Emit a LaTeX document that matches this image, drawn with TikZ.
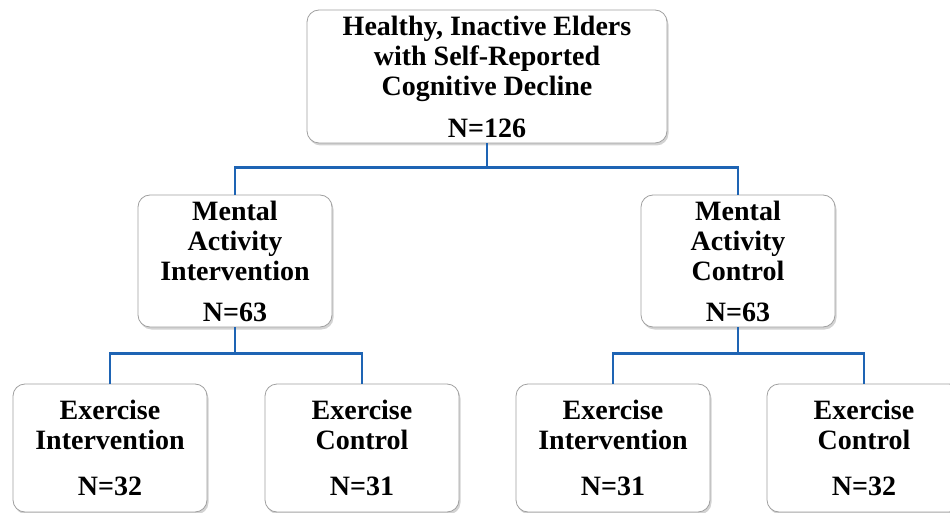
\documentclass[tikz,border=0pt]{standalone}
\usepackage{fontspec}
\setmainfont{Liberation Serif}
\usetikzlibrary{shadows}
\definecolor{connblue}{RGB}{30,100,180}
\definecolor{boxgray}{RGB}{160,160,160}
\tikzset{
  box/.style={draw=boxgray, line width=0.8pt, fill=white, rounded corners=12pt,
    align=center, inner sep=2pt, font=\bfseries\fontsize{28}{30}\selectfont,
    drop shadow={shadow xshift=1.5pt, shadow yshift=-2.5pt, opacity=0.35, fill=gray}},
  conn/.style={draw=connblue, line width=2.4pt}
}
\begin{document}
\begin{tikzpicture}[x=1pt,y=1pt]
\useasboundingbox (0,0) rectangle (950,512);
\begin{scope}
\clip (0,0) rectangle (950,512);
\node[box, minimum width=360pt, minimum height=133pt] (top) at (487,435.5)
  {Healthy, Inactive Elders\\with Self-Reported\\Cognitive Decline\\[12pt]N=126};
\node[box, minimum width=194pt, minimum height=132pt] (mi) at (235,251)
  {Mental\\Activity\\Intervention\\[11pt]N=63};
\node[box, minimum width=194pt, minimum height=132pt] (mc) at (738,251)
  {Mental\\Activity\\Control\\[11pt]N=63};
\node[box, minimum width=194pt, minimum height=128pt] (ei1) at (110,64)
  {Exercise\\Intervention\\[16pt]N=32};
\node[box, minimum width=194pt, minimum height=128pt] (ec1) at (362,64)
  {Exercise\\Control\\[16pt]N=31};
\node[box, minimum width=194pt, minimum height=128pt] (ei2) at (613,64)
  {Exercise\\Intervention\\[16pt]N=31};
\node[box, minimum width=194pt, minimum height=128pt] (ec2) at (864,64)
  {Exercise\\Control\\[16pt]N=32};
\draw[conn] (top.south) -- ++(0,-24) coordinate (j1);
\draw[conn] (mi.north) |- (j1) -| (mc.north);
\draw[conn] (mi.south) -- ++(0,-26) coordinate (j2);
\draw[conn] (ei1.north) |- (j2) -| (ec1.north);
\draw[conn] (mc.south) -- ++(0,-26) coordinate (j3);
\draw[conn] (ei2.north) |- (j3) -| (ec2.north);
\end{scope}
\end{tikzpicture}
\end{document}
